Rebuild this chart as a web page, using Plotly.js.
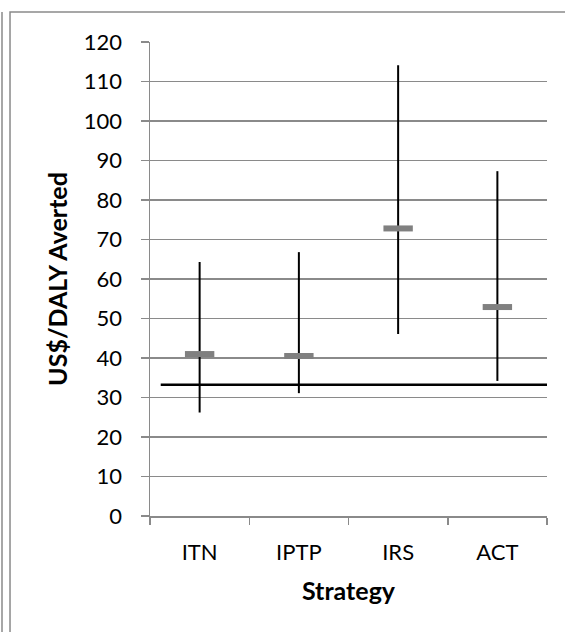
<!DOCTYPE html>
<html>
<head>
<meta charset="utf-8">
<script src="https://cdn.plot.ly/plotly-3.0.1.min.js"></script>
<style>html,body{margin:0;padding:0;background:#fff;}#chart{width:565px;height:632px;}</style>
</head>
<body>
<div id="chart"></div>
<script>
// Data
const strategies = ["ITN", "IPTP", "IRS", "ACT"];
const meanCost = [41.0, 40.5, 72.8, 52.9];
const lowCost = [26.2, 31.1, 46.1, 34.2];
const highCost = [64.3, 66.8, 114.1, 87.3];
const threshold = 33.2;
const yTicks = [0, 10, 20, 30, 40, 50, 60, 70, 80, 90, 100, 110, 120];

const errPlus = meanCost.map((m, i) => highCost[i] - m);
const errMinus = meanCost.map((m, i) => m - lowCost[i]);

const FONT = "Lato, 'Liberation Sans', sans-serif";
const GRID = "#8a8a8a";

const trace = {
  type: "scatter",
  mode: "markers",
  x: strategies,
  y: meanCost,
  marker: { symbol: "line-ew", size: 21, color: "#808080", line: { color: "#808080", width: 6 } },
  error_y: { type: "data", symmetric: false, array: errPlus, arrayminus: errMinus, color: "#000", thickness: 2, width: 0 },
  showlegend: false,
  hoverinfo: "x+y"
};

const layout = {
  width: 565, height: 632,
  margin: { l: 150, r: 18, t: 42, b: 116 },
  paper_bgcolor: "#fff", plot_bgcolor: "#fff",
  font: { family: FONT, size: 22, color: "#000" },
  showlegend: false,
  xaxis: {
    type: "category",
    range: [-0.5, 3.5],
    showgrid: false,
    showline: true, linecolor: GRID, linewidth: 1.5,
    ticks: "outside", tickson: "boundaries", ticklen: 7, tickcolor: GRID, tickwidth: 1.5,
    tickfont: { family: FONT, size: 22, color: "#000" },
    ticklabelstandoff: 16,
    title: { text: "<b>Strategy</b>", font: { family: FONT, size: 25, color: "#000" }, standoff: 18 },
    zeroline: false, fixedrange: true
  },
  yaxis: {
    range: [0, 120],
    tickvals: yTicks,
    showgrid: true, gridcolor: GRID, gridwidth: 1.5,
    showline: true, linecolor: GRID, linewidth: 1.5,
    ticks: "outside", ticklen: 8, tickcolor: GRID, tickwidth: 1.5,
    tickfont: { family: FONT, size: 22, color: "#000" },
    ticklabelstandoff: 14,
    title: { text: "<b>US$/DALY Averted</b>", font: { family: FONT, size: 25, color: "#000" }, standoff: 9 },
    zeroline: false, fixedrange: true
  },
  shapes: [
    { type: "line", xref: "paper", yref: "y", x0: 0.027, x1: 1, y0: threshold, y1: threshold, line: { color: "#000", width: 2.5 } },
    { type: "rect", xref: "paper", yref: "paper", x0: -0.3526, x1: 1.06, y0: -0.26, y1: 1.0633, line: { color: GRID, width: 1.5 }, fillcolor: "rgba(0,0,0,0)", layer: "below" },
    { type: "line", xref: "paper", yref: "paper", x0: -0.3728, x1: -0.3728, y0: -0.26, y1: 1.0633, line: { color: GRID, width: 1.5 } }
  ],
  annotations: [
    { xref: "paper", yref: "paper", x: -0.348, y: 1.0853, xanchor: "left", yanchor: "bottom", showarrow: false,
      text: "<b>Figure 3: Cost-effectiveness by Strategy</b>", font: { family: FONT, size: 19, color: "#000" } }
  ]
};

Plotly.newPlot("chart", [trace], layout, { displayModeBar: false, staticPlot: true });
</script>
</body>
</html>
